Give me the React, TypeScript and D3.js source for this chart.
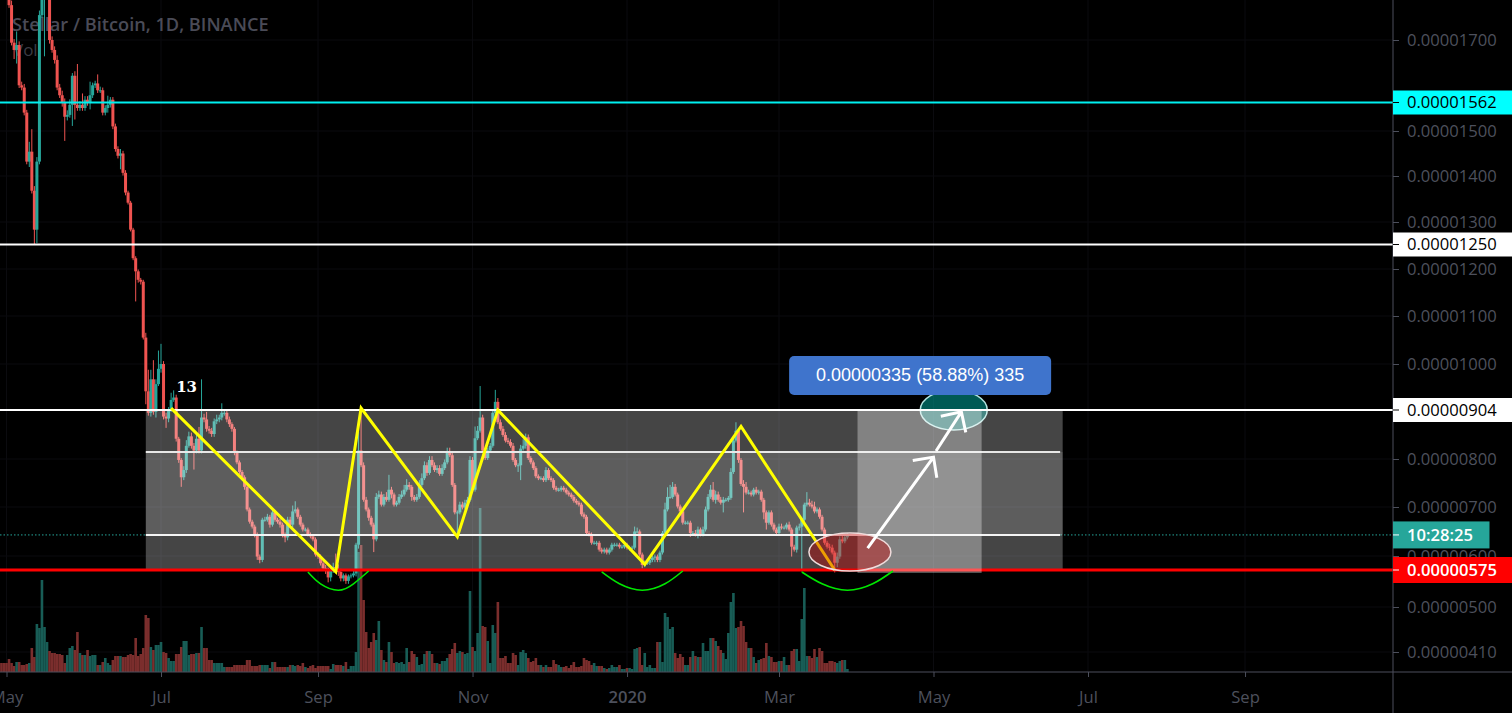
import { useRef, useEffect } from 'react';
import * as d3 from 'd3';

// daily bars from 2019-04-29, prices in satoshi (1e-8 BTC)
const firstDay = '2019-04-29';
const firstOpen = 1940;

const closes = [
	1920, 1876, 1832, 1777, 1694, 1678, 1689, 1600, 1595, 1540,
	1432, 1454, 1368, 1283, 1432, 1755, 1799, 1810, 1843, 1700,
	1678, 1656, 1595, 1578, 1561, 1531, 1535, 1557, 1621, 1557,
	1550, 1557, 1550, 1568, 1561, 1578, 1600, 1604, 1589, 1589,
	1540, 1550, 1557, 1568, 1510, 1460, 1445, 1450, 1407, 1364,
	1342, 1283, 1222, 1195, 1177, 1173, 1055, 943, 898, 968,
	900, 958, 990, 1000, 890, 886, 904, 925, 930, 843,
	798, 762, 777, 828, 848, 828, 818, 843, 818, 888,
	884, 864, 860, 853, 880, 884, 888, 898, 898, 884,
	874, 864, 814, 793, 773, 762, 742, 695, 670, 660,
	644, 599, 593, 674, 674, 680, 664, 689, 674, 670,
	664, 644, 638, 674, 664, 691, 695, 680, 664, 654,
	654, 644, 640, 634, 603, 599, 587, 578, 575, 560,
	575, 580, 575, 571, 558, 564, 553, 562, 564, 568,
	623, 818, 787, 715, 695, 678, 664, 634, 721, 726,
	705, 721, 715, 736, 726, 705, 709, 721, 726, 736,
	746, 742, 721, 715, 721, 746, 760, 787, 771, 798,
	787, 777, 781, 769, 781, 793, 814, 808, 746, 689,
	689, 705, 699, 709, 715, 798, 736, 844, 860, 888,
	818, 802, 818, 828, 898, 921, 878, 864, 851, 839,
	836, 828, 798, 787, 787, 822, 828, 846, 802, 793,
	781, 764, 760, 760, 756, 777, 760, 756, 740, 736,
	736, 740, 736, 730, 726, 721, 713, 709, 705, 685,
	680, 647, 644, 627, 627, 627, 613, 609, 613, 607,
	613, 623, 623, 623, 619, 619, 623, 617, 617, 617,
	650, 650, 603, 584, 588, 588, 593, 597, 599, 593,
	607, 647, 695, 721, 721, 742, 726, 701, 691, 668,
	668, 668, 647, 647, 644, 654, 644, 654, 695, 721,
	736, 715, 726, 715, 709, 715, 715, 719, 773, 839,
	860, 798, 748, 742, 730, 730, 726, 736, 730, 732,
	715, 689, 668, 689, 664, 654, 647, 660, 658, 658,
	664, 654, 619, 613, 658, 660, 674, 705, 709, 705,
	701, 691, 695, 680, 654, 627, 619, 617, 607, 588,
	599, 634, 630, 638, 643,
];

// how far each wick sticks out of the body
const upperWicks = [
	10, 10, 10, 10, 10, 8, 30, 8, 8, 8,
	6, 22, 50, 10, 10, 10, 40, 10, 40, 10,
	8, 8, 10, 8, 10, 10, 10, 12, 6, 10,
	90, 8, 25, 8, 8, 30, 6, 6, 20, 8,
	6, 6, 20, 6, 6, 6, 6, 10, 6, 6,
	4, 4, 4, 4, 4, 4, 4, 10, 45, 20,
	40, 10, 38, 42, 6, 8, 6, 15, 15, 6,
	4, 4, 8, 12, 10, 8, 6, 12, 25, 80,
	8, 16, 6, 6, 6, 10, 6, 20, 6, 4,
	6, 4, 4, 4, 4, 4, 4, 4, 4, 4,
	4, 4, 4, 4, 6, 6, 4, 6, 4, 4,
	6, 4, 4, 6, 6, 12, 17, 4, 4, 4,
	4, 4, 4, 4, 4, 4, 4, 4, 6, 4,
	4, 8, 25, 10, 6, 4, 4, 4, 4, 6,
	4, 40, 86, 6, 6, 4, 4, 4, 8, 8,
	6, 6, 10, 31, 6, 4, 4, 6, 8, 10,
	12, 6, 4, 4, 6, 10, 10, 8, 6, 8,
	8, 6, 6, 6, 8, 6, 10, 10, 6, 4,
	4, 6, 6, 6, 6, 8, 6, 25, 10, 66,
	6, 6, 6, 6, 8, 25, 8, 6, 6, 6,
	6, 6, 6, 4, 4, 8, 14, 8, 6, 4,
	4, 4, 4, 4, 4, 6, 4, 4, 4, 4,
	4, 4, 4, 4, 4, 4, 4, 4, 4, 4,
	4, 4, 4, 4, 4, 4, 4, 4, 4, 4,
	4, 4, 4, 4, 4, 4, 4, 4, 4, 4,
	10, 8, 4, 4, 4, 4, 4, 4, 4, 4,
	4, 4, 14, 20, 25, 10, 6, 4, 4, 4,
	4, 4, 4, 4, 6, 6, 4, 6, 6, 6,
	10, 16, 8, 6, 6, 6, 4, 4, 8, 12,
	18, 4, 4, 8, 10, 6, 4, 4, 6, 4,
	4, 4, 4, 4, 4, 4, 4, 6, 6, 4,
	4, 6, 4, 4, 4, 6, 4, 4, 22, 8,
	8, 10, 4, 4, 4, 4, 4, 6, 6, 4,
	8, 6, 10, 6, 4,
];

const lowerWicks = [
	6, 6, 6, 6, 6, 20, 30, 6, 6, 6,
	6, 12, 6, 32, 30, 6, 6, 135, 6, 8,
	6, 8, 6, 6, 8, 53, 8, 6, 46, 32,
	6, 6, 6, 6, 6, 14, 6, 6, 6, 6,
	6, 6, 10, 6, 6, 6, 6, 30, 6, 6,
	4, 4, 4, 64, 6, 6, 4, 27, 6, 8,
	6, 12, 4, 8, 6, 20, 8, 4, 4, 6,
	6, 20, 6, 6, 4, 6, 40, 6, 6, 6,
	6, 6, 6, 6, 6, 6, 6, 6, 6, 6,
	6, 6, 6, 4, 4, 6, 6, 4, 4, 4,
	6, 6, 6, 4, 4, 4, 6, 4, 4, 4,
	6, 6, 10, 6, 4, 6, 4, 4, 4, 4,
	4, 4, 4, 4, 4, 4, 4, 4, 8, 10,
	8, 6, 4, 8, 6, 6, 6, 6, 4, 4,
	6, 8, 4, 4, 4, 6, 4, 26, 4, 4,
	4, 4, 4, 4, 8, 4, 4, 4, 4, 4,
	4, 6, 8, 4, 4, 4, 4, 4, 6, 4,
	4, 4, 6, 4, 4, 4, 4, 4, 4, 4,
	45, 4, 4, 4, 4, 4, 4, 4, 4, 4,
	4, 4, 4, 4, 4, 4, 4, 4, 4, 4,
	4, 4, 4, 4, 14, 31, 4, 6, 4, 4,
	4, 4, 4, 4, 4, 4, 4, 4, 4, 4,
	4, 4, 4, 4, 4, 4, 4, 4, 4, 4,
	4, 4, 4, 4, 4, 6, 4, 4, 4, 4,
	4, 4, 4, 4, 4, 4, 4, 4, 6, 4,
	4, 4, 4, 6, 4, 4, 4, 4, 8, 4,
	4, 4, 4, 4, 4, 4, 4, 4, 4, 4,
	4, 4, 8, 6, 4, 8, 4, 4, 4, 4,
	4, 4, 8, 4, 4, 20, 4, 4, 4, 4,
	4, 6, 4, 53, 4, 4, 4, 4, 4, 4,
	4, 14, 14, 4, 4, 4, 6, 4, 4, 4,
	4, 4, 20, 4, 6, 6, 88, 6, 4, 4,
	4, 4, 4, 4, 4, 4, 4, 6, 4, 18,
	8, 4, 4, 4, 4,
];

const volumes = [
	9, 9, 9, 13, 9, 6, 10, 10, 7, 7,
	8, 9, 24, 15, 48, 44, 92, 45, 30, 21,
	19, 19, 18, 18, 17, 9, 17, 24, 26, 22,
	40, 19, 17, 17, 22, 16, 17, 17, 7, 7,
	10, 14, 9, 7, 12, 16, 16, 16, 15, 15,
	17, 18, 17, 34, 16, 18, 24, 57, 54, 25,
	22, 27, 27, 30, 20, 19, 14, 11, 11, 18,
	18, 25, 31, 31, 17, 18, 18, 19, 19, 45,
	24, 24, 12, 12, 9, 9, 9, 9, 5, 5,
	5, 5, 7, 7, 7, 7, 7, 12, 12, 6,
	6, 6, 7, 7, 7, 7, 4, 10, 10, 5,
	5, 5, 5, 5, 7, 7, 6, 7, 6, 9,
	5, 4, 6, 7, 4, 6, 6, 6, 6, 6,
	3, 8, 7, 7, 7, 6, 10, 3, 6, 6,
	20, 120, 127, 72, 40, 24, 30, 39, 32, 51,
	22, 12, 10, 30, 20, 9, 10, 9, 10, 8,
	24, 10, 21, 18, 15, 7, 8, 18, 21, 21,
	18, 9, 9, 8, 11, 11, 14, 18, 23, 29,
	19, 21, 20, 18, 19, 81, 25, 21, 39, 164,
	46, 45, 31, 9, 47, 39, 70, 14, 14, 16,
	9, 9, 19, 17, 7, 20, 22, 19, 14, 10,
	11, 14, 7, 7, 5, 7, 5, 5, 12, 8,
	7, 5, 5, 6, 4, 7, 10, 5, 5, 6,
	14, 12, 11, 7, 9, 6, 6, 6, 4, 3,
	4, 7, 5, 5, 7, 3, 3, 4, 4, 3,
	23, 24, 25, 7, 19, 5, 7, 4, 4, 30,
	30, 10, 59, 55, 43, 45, 19, 14, 18, 15,
	7, 7, 15, 21, 16, 15, 15, 29, 21, 21,
	34, 34, 31, 26, 22, 19, 13, 39, 70, 79,
	44, 45, 51, 46, 30, 24, 24, 15, 9, 12,
	13, 14, 29, 16, 15, 10, 10, 11, 11, 15,
	7, 7, 21, 23, 23, 11, 53, 84, 16, 16,
	14, 23, 15, 24, 21, 9, 9, 11, 11, 10,
	9, 11, 12, 12, 3,
];

// price axis: the scale is not quite linear, so keep every readable tick
const scalePrices = [1700, 1562, 1500, 1400, 1300, 1250, 1200, 1100, 1000, 904, 800, 700, 600, 575, 500, 410];
const scaleRows = [40, 102.5, 131, 176, 222, 244.5, 269, 316, 364, 410, 459, 507, 556, 570, 607, 652];
const priceTicks = [1700, 1500, 1400, 1300, 1200, 1100, 1000, 800, 700, 600, 500, 410];

const timeTicks = ['2019-05-01', '2019-07-01', '2019-09-01', '2019-11-01', '2020-01-01', '2020-03-01', '2020-05-01', '2020-07-01', '2020-09-01'];
const timeLabels = ['May', 'Jul', 'Sep', 'Nov', '2020', 'Mar', 'May', 'Jul', 'Sep'];

// drawings
const zigzagDates = ['2019-07-05', '2019-09-08', '2019-09-18', '2019-10-26', '2019-11-11', '2020-01-08', '2020-02-15', '2020-03-23'];
const zigzagPrices = [908, 571, 908, 639, 904, 585, 869, 575];

const arcDates = [
	['2019-08-28', '2019-09-02', '2019-09-09', '2019-09-15', '2019-09-21'],
	['2019-12-22', '2019-12-29', '2020-01-07', '2020-01-16', '2020-01-23'],
	['2020-03-10', '2020-03-18', '2020-03-28', '2020-04-07', '2020-04-15'],
];
const arcPrices = [571, 547, 534, 547, 573];

const App = () => {
	const svgRef = useRef<SVGSVGElement | null>(null);

	useEffect(() => {
		d3.select(svgRef.current).selectAll('*').remove();

		const w = 1512;
		const h = 713;
		const plotW = 1393;
		const plotH = 672;
		const axisColor = '#4c4f5c';
		const labelColor = '#4d505c';
		const axisFont = '"Open Sans", sans-serif';
		const up = '#26a69a';
		const down = '#ef5350';

		const day = d3.utcParse('%Y-%m-%d');
		const d = (s: string) => day(s) as Date;

		const x = d3
			.scaleUtc()
			.domain([d('2019-05-01'), d('2020-03-01')])
			.range([6.5, 779]);
		const y = d3.scaleLinear().domain(scalePrices).range(scaleRows);
		const vol = d3.scaleLinear().domain([0, 164]).range([plotH, plotH - 164]);

		const bars = closes.map((close, i) => {
			const open = i === 0 ? firstOpen : closes[i - 1];
			return {
				date: d3.utcDay.offset(d(firstDay), i),
				open,
				close,
				high: Math.max(open, close) + upperWicks[i],
				low: Math.min(open, close) - lowerWicks[i],
				volume: volumes[i],
			};
		});

		const svg = d3
			.select(svgRef.current!)
			.attr('width', w)
			.attr('height', h)
			.style('position', 'fixed')
			.style('left', 0)
			.style('top', 0)
			.style('background', '#000');

		svg
			.append('clipPath')
			.attr('id', 'plot')
			.append('rect')
			.attr('width', plotW)
			.attr('height', plotH);

		// faint grid
		const grid = svg.append('g').attr('stroke', '#0b0b0f');
		timeTicks.forEach((t) => {
			grid.append('line').attr('x1', x(d(t))).attr('x2', x(d(t))).attr('y1', 0).attr('y2', plotH);
		});
		priceTicks.forEach((p) => {
			grid.append('line').attr('x1', 0).attr('x2', plotW).attr('y1', y(p)).attr('y2', y(p));
		});

		// legend sits under the candles
		svg
			.append('text')
			.text('Stellar / Bitcoin, 1D, BINANCE')
			.attr('x', 12)
			.attr('y', 31)
			.attr('fill', '#4a4b57')
			.attr('font-family', axisFont)
			.attr('font-weight', 600)
			.attr('font-size', '18.2px');
		svg
			.append('text')
			.text('Vol')
			.attr('x', 13)
			.attr('y', 56)
			.attr('fill', '#3b3c44')
			.attr('font-family', axisFont)
			.attr('font-size', '17px');

		const plot = svg.append('g').attr('clip-path', 'url(#plot)');

		plot
			.append('g')
			.selectAll('rect')
			.data(bars)
			.join('rect')
			.attr('x', (b) => x(b.date) - 1.3)
			.attr('width', 2.6)
			.attr('y', (b) => vol(b.volume))
			.attr('height', (b) => plotH - vol(b.volume))
			.attr('fill', (b) => (b.close >= b.open ? '#185d56' : '#7b2e2d'));

		const candles = plot.append('g');
		candles
			.selectAll('line')
			.data(bars)
			.join('line')
			.attr('x1', (b) => x(b.date))
			.attr('x2', (b) => x(b.date))
			.attr('y1', (b) => y(b.high))
			.attr('y2', (b) => y(b.low))
			.attr('stroke', (b) => (b.close >= b.open ? up : down));
		candles
			.selectAll('rect')
			.data(bars)
			.join('rect')
			.attr('x', (b) => x(b.date) - 1.5)
			.attr('width', 3)
			.attr('y', (b) => y(Math.max(b.open, b.close)))
			.attr('height', (b) => Math.max(1, Math.abs(y(b.open) - y(b.close))))
			.attr('fill', (b) => (b.close >= b.open ? up : down));

		// last price
		const lastPrice = closes[closes.length - 1];
		plot
			.append('line')
			.attr('x1', 0)
			.attr('x2', plotW)
			.attr('y1', y(lastPrice))
			.attr('y2', y(lastPrice))
			.attr('stroke', up)
			.attr('stroke-dasharray', '1.5 2');

		// target ellipse lies under the boxes
		plot
			.append('ellipse')
			.attr('cx', x(d('2020-05-09')))
			.attr('cy', y(904))
			.attr('rx', 33.5)
			.attr('ry', 20)
			.attr('fill', 'rgb(0,150,140)')
			.attr('fill-opacity', 0.6)
			.attr('stroke', '#b4e4e0')
			.attr('stroke-width', 1.5);

		// range boxes
		const box = (from: string, to: string, top: number, bottom: number, alpha: number) =>
			plot
				.append('rect')
				.attr('x', x(d(from)))
				.attr('width', x(d(to)) - x(d(from)))
				.attr('y', y(top))
				.attr('height', y(bottom) - y(top))
				.attr('fill', '#fff')
				.attr('fill-opacity', alpha);
		box('2019-06-25', '2020-06-21', 904, 575, 0.27);
		box('2019-06-25', '2020-06-21', 815, lastPrice, 0.134);

		const hline = (price: number, color: string, width: number, from?: string, to?: string) =>
			plot
				.append('line')
				.attr('x1', from ? x(d(from)) : 0)
				.attr('x2', to ? x(d(to)) : plotW)
				.attr('y1', y(price))
				.attr('y2', y(price))
				.attr('stroke', color)
				.attr('stroke-width', width);
		hline(1562, '#00f0f0', 2);
		hline(1250, '#fff', 2);
		hline(904, '#fff', 2);
		hline(815, '#e8e8e8', 2, '2019-06-25', '2020-06-20');
		hline(lastPrice, '#f4f4f4', 2, '2019-06-25', '2020-06-20');
		hline(575, '#ff0000', 3);

		box('2020-04-01', '2020-05-20', 904, 569, 0.33);

		// yellow W pattern
		const line = d3
			.line<number>()
			.x((_, i) => x(d(zigzagDates[i])))
			.y((p) => y(p));
		plot
			.append('path')
			.attr('d', line(zigzagPrices))
			.attr('fill', 'none')
			.attr('stroke', '#ffff00')
			.attr('stroke-width', 3);

		// green bowls
		arcDates.forEach((dates) => {
			const arc = d3
				.line<number>()
				.x((_, i) => x(d(dates[i])))
				.y((p) => y(p))
				.curve(d3.curveNatural);
			plot
				.append('path')
				.attr('d', arc(arcPrices))
				.attr('fill', 'none')
				.attr('stroke', '#00e600')
				.attr('stroke-width', 1.6);
		});

		plot
			.append('ellipse')
			.attr('cx', x(d('2020-03-29')))
			.attr('cy', y(608))
			.attr('rx', 41)
			.attr('ry', 19)
			.attr('fill', '#d20505')
			.attr('fill-opacity', 0.39)
			.attr('stroke', '#f0dcdc')
			.attr('stroke-width', 1.5);

		// arrows
		const arrow = (fromDate: string, fromPrice: number, toDate: string, toPrice: number) => {
			const x0 = x(d(fromDate));
			const y0 = y(fromPrice);
			const x1 = x(d(toDate));
			const y1 = y(toPrice);
			const back = Math.atan2(y0 - y1, x0 - x1);
			const arm = (a: number) => [x1 + 21 * Math.cos(back + a), y1 + 21 * Math.sin(back + a)];
			const [ax, ay] = arm(Math.PI / 4);
			const [bx, by] = arm(-Math.PI / 4);
			plot
				.append('path')
				.attr('d', `M${x0},${y0}L${x1},${y1}M${ax},${ay}L${x1},${y1}L${bx},${by}`)
				.attr('fill', 'none')
				.attr('stroke', '#fff')
				.attr('stroke-width', 3);
		};
		arrow('2020-04-05', 616, '2020-05-01', 804);
		arrow('2020-05-02', 817, '2020-05-12', 900);

		// measure label
		plot
			.append('rect')
			.attr('x', x(d('2020-03-05')))
			.attr('y', y(904) - 54)
			.attr('width', 262)
			.attr('height', 39)
			.attr('rx', 5)
			.attr('fill', '#3f74cc');
		plot
			.append('text')
			.text('0.00000335 (58.88%) 335')
			.attr('x', x(d('2020-03-05')) + 131)
			.attr('y', y(904) - 29)
			.attr('text-anchor', 'middle')
			.attr('fill', '#fff')
			.attr('font-family', '"Liberation Sans", sans-serif')
			.attr('font-size', '18px');

		plot
			.append('text')
			.text('13')
			.attr('x', x(d('2019-07-07')))
			.attr('y', y(904) - 18)
			.attr('fill', '#fff')
			.attr('font-family', '"DejaVu Serif", serif')
			.attr('font-weight', 700)
			.attr('font-size', '15px');

		// axes
		const yAxis = d3
			.axisRight(y)
			.tickValues(priceTicks)
			.tickSize(6)
			.tickPadding(8)
			.tickFormat((p) => ((p as number) / 1e8).toFixed(8));
		const yG = svg.append('g').attr('transform', `translate(${plotW},0)`).call(yAxis);
		yG.select('.domain').remove();
		yG.selectAll('line').attr('stroke', axisColor);
		yG.selectAll('text').attr('fill', labelColor).attr('font-family', axisFont).attr('font-size', '16.6px');

		const xAxis = d3
			.axisBottom(x)
			.tickValues(timeTicks.map(d))
			.tickSize(5)
			.tickPadding(14)
			.tickFormat((_, i) => timeLabels[i]);
		const xG = svg.append('g').attr('transform', `translate(0,${plotH})`).call(xAxis);
		xG.select('.domain').remove();
		xG.selectAll('line').attr('stroke', axisColor);
		xG.selectAll('text').attr('fill', labelColor).attr('font-family', axisFont).attr('font-size', '16.6px');
		xG.selectAll('text')
			.filter((t) => (t as Date).getUTCMonth() === 0)
			.attr('font-weight', 600);

		svg.append('line').attr('x1', plotW).attr('x2', plotW).attr('y1', 0).attr('y2', h).attr('stroke', axisColor);
		svg.append('line').attr('x1', 0).attr('x2', w).attr('y1', plotH).attr('y2', plotH).attr('stroke', axisColor);

		// price tags
		const tag = (
			row: number,
			text: string,
			fill: string,
			color: string,
			weight: number,
			boxW: number,
			boxH: number,
		) => {
			const g = svg.append('g').attr('transform', `translate(${plotW},${row})`);
			g.append('rect').attr('y', -boxH / 2).attr('width', boxW).attr('height', boxH).attr('fill', fill);
			g.append('line').attr('x1', 0).attr('x2', 6).attr('stroke', color);
			g.append('text')
				.text(text)
				.attr('x', 14)
				.attr('dy', '0.35em')
				.attr('fill', color)
				.attr('font-family', axisFont)
				.attr('font-weight', weight)
				.attr('font-size', '16.6px');
		};
		tag(y(1562), (1562 / 1e8).toFixed(8), '#00ffff', '#000', 400, 119, 24);
		tag(y(1250), (1250 / 1e8).toFixed(8), '#ffffff', '#000', 400, 119, 24);
		tag(y(904), (904 / 1e8).toFixed(8), '#ffffff', '#000', 400, 119, 24);
		tag(y(lastPrice), '10:28:25', up, '#fff', 600, 96.5, 27);
		tag(y(575), (575 / 1e8).toFixed(8), '#ff0000', '#fff', 600, 119, 26);
	}, []);

	return <svg ref={svgRef}></svg>;
};

export default App;
